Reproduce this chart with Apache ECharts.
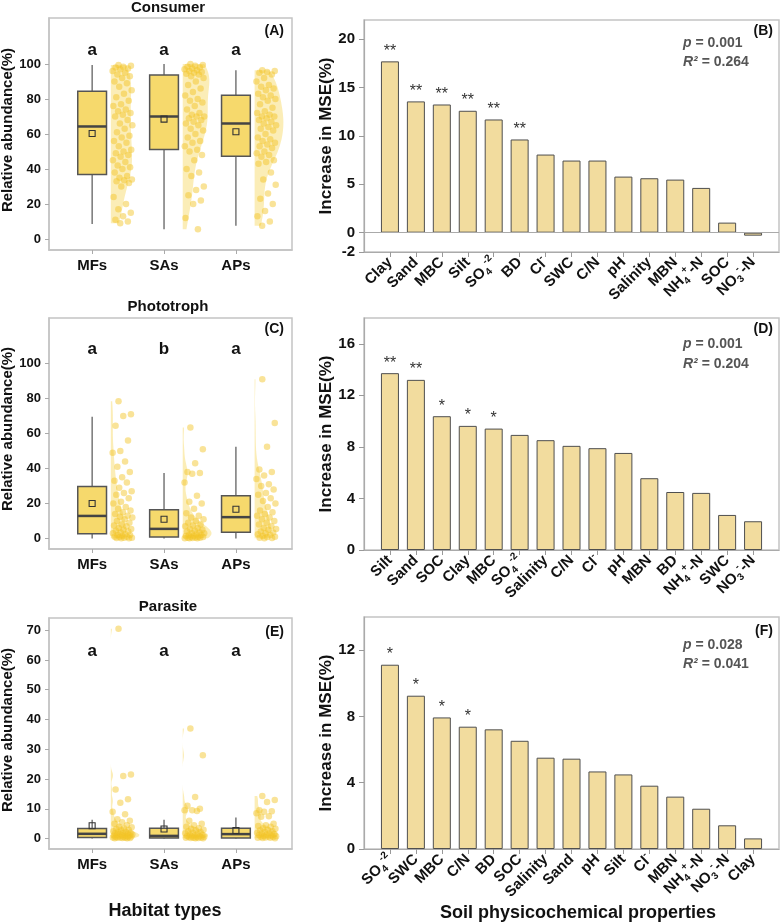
<!DOCTYPE html>
<html><head><meta charset="utf-8">
<script src="https://cdn.jsdelivr.net/npm/echarts@6/dist/echarts.min.js"></script>
<style>html,body{margin:0;padding:0;background:#fff}#c{width:780px;height:924px}</style>
</head><body><div id="c"></div>
<script>
// ---------- DATA ----------
const habitats = ['MFs', 'SAs', 'APs'];

// box stats per habitat: [lower whisker, Q1, median, Q3, upper whisker]
const consumerBox = [[8.6, 36.8, 64.3, 84.5, 99.4], [5.5, 51.1, 70.0, 93.7, 100], [7.6, 47.3, 66.0, 82.1, 96.4]];
const consumerMean = [60.3, 68.5, 61.3];
const consumerLetters = ['a', 'a', 'a'];
const consumerMFs = [99.5, 99, 98.5, 98, 97.5, 97, 96, 95, 94, 93, 92, 90, 89, 87, 85, 83, 81, 79, 77, 76, 74, 73, 72, 71, 70, 68, 66, 65, 63, 61, 59, 58, 56, 55, 53, 51, 50, 49, 48, 47, 45, 44, 42, 41, 40, 38, 36, 35, 34, 33.5, 33, 32, 30, 24, 20, 17, 15, 13, 11, 10, 9];
const consumerSAs = [100, 99.5, 99, 98.5, 98, 97.5, 97, 96.5, 96, 95.5, 95, 94.5, 94, 93, 92, 90, 88, 86, 84, 82, 80, 79, 78, 76, 74, 72, 71, 70, 70, 69, 68, 67, 66, 65, 63, 62, 60, 58, 56, 55, 53, 51, 50, 48, 45, 40, 38, 36, 30, 28, 25, 22, 20, 12, 5.5];
const consumerAPs = [96.5, 96, 95.5, 95, 94, 92, 90, 88, 87, 86, 85, 83, 82, 81, 80, 79, 77, 75, 73, 72, 71, 70, 70, 69, 68, 67, 66, 65, 64, 63, 62, 60, 58, 57, 56, 55, 54, 53, 52, 50, 49, 48, 47, 45, 44, 43, 38, 34, 31, 26, 23, 20, 16, 13, 10, 7.5];

const phototrophBox = [[0, 2.7, 12.9, 29.7, 69.6], [0, 0.8, 5.5, 16.5, 37.5], [0, 3.6, 12.2, 24.5, 52.5]];
const phototrophMean = [20.0, 11.0, 16.7];
const phototrophLetters = ['a', 'b', 'a'];
const phototrophMFs = [78.5, 71, 70, 64.5, 56, 50, 49, 44, 41, 38, 35, 33, 32, 29, 27, 26, 25, 23, 21, 20, 18, 17, 16, 15, 14, 13, 12.5, 12, 11, 10, 9, 8, 7.5, 7, 6, 5.5, 5, 4.5, 4, 3.5, 3, 2.5, 2, 2, 1.5, 1, 1, 0.8, 0.5, 0.5, 0.3, 0.2, 0.1];
const phototrophSAs = [63.5, 51, 43, 38, 37.5, 37, 32, 24.5, 21, 20, 17, 14.5, 13, 12, 11, 10, 9, 8, 7.5, 7, 6, 5.5, 5, 4.5, 4, 3.5, 3, 3, 2.5, 2, 2, 1.5, 1.5, 1, 1, 0.8, 0.6, 0.5, 0.4, 0.3, 0.2, 0.2, 0.1];
const phototrophAPs = [91, 66, 52.5, 39.5, 38, 36, 34, 31, 30, 28, 26, 25, 23, 21.5, 20, 18, 16, 15, 14, 13, 12, 11, 10, 9, 8, 7, 6, 5.5, 5, 4, 3.5, 3, 2.5, 2, 1.5, 1, 0.8, 0.5, 0.3, 0.2];

const parasiteBox = [[0, 0.4, 1.6, 3.4, 6.3], [0, 0.2, 0.9, 3.5, 6.3], [0, 0.2, 1.5, 3.5, 7.1]];
const parasiteMean = [4.3, 3.2, 2.7];
const parasiteLetters = ['a', 'a', 'a'];
const parasiteMFs = [70.5, 21.5, 21, 16.5, 13.2, 12, 9, 8.2, 6.5, 6, 5.5, 5, 4.5, 4, 3.8, 3.5, 3.2, 3, 2.8, 2.5, 2.3, 2.1, 2, 1.9, 1.8, 1.6, 1.5, 1.4, 1.3, 1.2, 1.1, 1, 1, 0.9, 0.8, 0.7, 0.6, 0.5, 0.5, 0.4, 0.4, 0.3, 0.3, 0.2, 0.2, 0.1, 0.1];
const parasiteSAs = [37, 28, 14, 11, 10, 9.5, 9.5, 9.3, 6, 5, 4.5, 4, 3.5, 3.2, 3, 2.8, 2.5, 2.2, 2, 1.8, 1.5, 1.3, 1.2, 1, 0.9, 0.8, 0.7, 0.6, 0.5, 0.5, 0.4, 0.3, 0.3, 0.2, 0.2, 0.1, 0.1];
const parasiteAPs = [14.3, 13, 12.3, 9.5, 9.2, 9, 8.5, 7.5, 7.3, 5, 4.5, 4.2, 4, 3.5, 3.3, 3, 2.8, 2.5, 2.2, 2, 1.8, 1.6, 1.5, 1.3, 1.2, 1, 0.9, 0.8, 0.7, 0.6, 0.5, 0.4, 0.3, 0.3, 0.2, 0.1];

const yTicksAbund = [0, 20, 40, 60, 80, 100];
const yTicksParasite = [0, 10, 20, 30, 40, 50, 60, 70];

// Random forest importance panels
const propsB = ['Clay', 'Sand', 'MBC', 'Silt', 'SO4', 'BD', 'Cl', 'SWC', 'C/N', 'pH', 'Salinity', 'MBN', 'NH4', 'SOC', 'NO3'];
const mseB = [17.72, 13.58, 13.26, 12.61, 11.71, 9.64, 8.08, 7.46, 7.46, 5.80, 5.63, 5.49, 4.63, 1.04, -0.31];
const sigB = ['**', '**', '**', '**', '**', '**', '', '', '', '', '', '', '', '', ''];
const statsB = ['0.001', '0.264'];
const yTicksB = [-2, 0, 5, 10, 15, 20];

const propsD = ['Silt', 'Sand', 'SOC', 'Clay', 'MBC', 'SO4', 'Salinity', 'C/N', 'Cl', 'pH', 'MBN', 'BD', 'NH4', 'SWC', 'NO3'];
const mseD = [13.72, 13.20, 10.38, 9.63, 9.42, 8.93, 8.52, 8.08, 7.90, 7.53, 5.57, 4.50, 4.43, 2.72, 2.23];
const sigD = ['**', '**', '*', '*', '*', '', '', '', '', '', '', '', '', '', ''];
const statsD = ['0.001', '0.204'];
const yTicksD = [0, 4, 8, 12, 16];

const propsF = ['SO4', 'SWC', 'MBC', 'C/N', 'BD', 'SOC', 'Salinity', 'Sand', 'pH', 'Silt', 'Cl', 'MBN', 'NH4', 'NO3', 'Clay'];
const mseF = [11.12, 9.25, 7.94, 7.38, 7.22, 6.53, 5.51, 5.45, 4.68, 4.50, 3.82, 3.16, 2.43, 1.43, 0.64];
const sigF = ['*', '*', '*', '*', '', '', '', '', '', '', '', '', '', '', ''];
const statsF = ['0.028', '0.041'];
const yTicksF = [0, 4, 8, 12];

// ---------- STYLE / HELPERS ----------
const FONT = "'Liberation Sans', Arial, sans-serif";
const BOX_FILL = '#F6D96C';
const VIOLIN_FILL = 'rgba(246, 214, 96, 0.45)';
const POINT_FILL = 'rgba(242, 196, 40, 0.6)';
const BAR_FILL = '#F2DC9E';
const FRAME = '#c4c4c4';

const richNames = {
  SO4: 'SO{sub|4}{sup|-2}',
  Cl: 'Cl{sup|-}',
  NH4: 'NH{sub|4}{sup|+}-N',
  NO3: 'NO{sub|3}{sup|-}-N'
};

function bw(arr) {
  const n = arr.length;
  const m = arr.reduce((a, b) => a + b, 0) / n;
  const sd = Math.sqrt(arr.reduce((a, b) => a + (b - m) * (b - m), 0) / (n - 1));
  const s = arr.slice().sort((a, b) => a - b);
  const q = p => { const h = (n - 1) * p; const l = Math.floor(h); return s[l] + (h - l) * ((s[l + 1] !== undefined ? s[l + 1] : s[l]) - s[l]); };
  const iqr = q(0.75) - q(0.25);
  const lo = Math.min(sd, iqr / 1.34) || sd;
  return 0.9 * lo * Math.pow(n, -0.2);
}
function kde(arr) {
  const h = bw(arr);
  const mn = Math.min(...arr), mx = Math.max(...arr);
  const pts = [];
  const N = 120;
  for (let i = 0; i <= N; i++) {
    const y = mn + (mx - mn) * i / N;
    let d = 0;
    for (const v of arr) { const u = (y - v) / h; d += Math.exp(-0.5 * u * u); }
    d /= (arr.length * h * Math.sqrt(2 * Math.PI));
    pts.push([y, d]);
  }
  return pts;
}
function jitter(i) { const f = (i * 0.6180339887 + 0.31) % 1; return 0.42 + 0.14 * (2 * f - 1); }

const grids = [
  { left: 49, top: 18, width: 243, height: 232 },   // A
  { left: 364, top: 20, width: 415, height: 232 },  // B
  { left: 49, top: 318, width: 243, height: 231 },  // C
  { left: 364, top: 318, width: 415, height: 232 }, // D
  { left: 49, top: 618, width: 243, height: 231 },  // E
  { left: 364, top: 617, width: 415, height: 232 }  // F
].map(g => Object.assign(g, { show: true, borderColor: FRAME, borderWidth: 1.5, backgroundColor: 'transparent' }));

const xAxes = [], yAxes = [], series = [];

function addLeftPanel(gi, box, means, letters, groups, yMin, yMax, ticks, letterY) {
  xAxes.push({
    type: 'value', gridIndex: gi, min: 0.4, max: 3.78,
    axisLine: { show: true, onZero: false, lineStyle: { color: FRAME, width: 1.5 } },
    axisTick: { show: true, customValues: [1, 2, 3], length: 4, lineStyle: { color: '#aaa' } },
    axisLabel: { customValues: [1, 2, 3], showMinLabel: true, showMaxLabel: true, formatter: v => habitats[Math.round(v) - 1], fontSize: 15, fontWeight: 'bold', color: '#111', margin: 8, fontFamily: FONT },
    splitLine: { show: false }
  });
  yAxes.push({
    type: 'value', gridIndex: gi, min: yMin, max: yMax,
    axisLine: { show: true, onZero: false, lineStyle: { color: FRAME, width: 1.5 } },
    axisTick: { show: true, customValues: ticks, length: 4, lineStyle: { color: '#aaa' } },
    axisLabel: { customValues: ticks, fontSize: 13, fontWeight: 'bold', color: '#111', margin: 8, fontFamily: FONT },
    splitLine: { show: false }
  });
  const ai = xAxes.length - 1;
  // violins (area-scaled density)
  const dens = groups.map(kde);
  const maxD = Math.max(...dens.map(d => Math.max(...d.map(p => p[1]))));
  series.push({
    type: 'custom', xAxisIndex: ai, yAxisIndex: ai, silent: true, z: 1,
    data: groups.map((g, i) => [i + 1]),
    renderItem: (params, api) => {
      const i = params.dataIndex;
      const x0 = api.value(0) + 0.26;
      const d = dens[i];
      const pts = [api.coord([x0, d[0][0]])];
      d.forEach(p => pts.push(api.coord([x0 + 0.40 * p[1] / maxD, p[0]])));
      pts.push(api.coord([x0, d[d.length - 1][0]]));
      return { type: 'polygon', shape: { points: pts }, style: { fill: VIOLIN_FILL, stroke: null } };
    }
  });
  // jittered points
  groups.forEach((g, gi2) => {
    series.push({
      type: 'scatter', xAxisIndex: ai, yAxisIndex: ai, silent: true, z: 2,
      symbolSize: 6.5, itemStyle: { color: POINT_FILL },
      data: g.map((v, k) => [gi2 + 1 + jitter(k), v])
    });
  });
  // boxes
  series.push({
    type: 'custom', xAxisIndex: ai, yAxisIndex: ai, silent: true, z: 3,
    data: box.map((b, i) => [i + 1, ...b, means[i]]),
    renderItem: (params, api) => {
      const x = api.value(0);
      const lo = api.value(1), q1 = api.value(2), md = api.value(3), q3 = api.value(4), hi = api.value(5), mn = api.value(6);
      const h = 0.2;
      const pLo = api.coord([x, lo]), pHi = api.coord([x, hi]);
      const tl = api.coord([x - h, q3]), br = api.coord([x + h, q1]);
      const ml = api.coord([x - h, md]), mr = api.coord([x + h, md]);
      const pm = api.coord([x, mn]);
      return {
        type: 'group', children: [
          { type: 'line', shape: { x1: pLo[0], y1: pLo[1], x2: pHi[0], y2: pHi[1] }, style: { stroke: '#555', lineWidth: 1.2 } },
          { type: 'rect', shape: { x: tl[0], y: tl[1], width: br[0] - tl[0], height: br[1] - tl[1] }, style: { fill: BOX_FILL, stroke: '#555', lineWidth: 1.5 } },
          { type: 'line', shape: { x1: ml[0], y1: ml[1], x2: mr[0], y2: mr[1] }, style: { stroke: '#444', lineWidth: 2.5 } },
          { type: 'rect', shape: { x: pm[0] - 3, y: pm[1] - 3, width: 6, height: 6 }, style: { fill: 'none', stroke: '#333', lineWidth: 1.1 } }
        ]
      };
    }
  });
  // significance letters
  series.push({
    type: 'custom', xAxisIndex: ai, yAxisIndex: ai, silent: true, z: 4,
    data: letters.map((l, i) => [i + 1, letterY]),
    renderItem: (params, api) => {
      const p = api.coord([api.value(0), api.value(1)]);
      return { type: 'text', x: p[0], y: p[1], style: { text: letters[params.dataIndex], fontSize: 17, fontWeight: 'bold', fontFamily: FONT, fill: '#111', align: 'center', verticalAlign: 'middle' } };
    }
  });
}

function addRightPanel(gi, props, vals, sig, yMin, yMax, ticks, zeroLine) {
  const labelPos = [0].concat(props.map((p, i) => i + 1)).concat([props.length + 1]);
  xAxes.push({
    type: 'value', gridIndex: gi, min: 0, max: 16, interval: 1,
    axisLine: { show: true, onZero: false, lineStyle: { color: '#aaa', width: 1.2 } },
    axisTick: { show: true, length: 5, lineStyle: { color: '#999' } },
    axisLabel: {
      customValues: labelPos, rotate: 45, margin: 8,
      showMinLabel: false, showMaxLabel: false, hideOverlap: false,
      formatter: v => { const k = Math.round(v); if (k < 1 || k > props.length) return ''; const n = props[k - 1]; return richNames[n] || n; },
      fontSize: 15, fontWeight: 'bold', color: '#111', fontFamily: FONT, lineHeight: 20,
      rich: {
        sub: { fontSize: 10, fontWeight: 'bold', color: '#111', fontFamily: FONT, verticalAlign: 'bottom', lineHeight: 10 },
        sup: { fontSize: 10, fontWeight: 'bold', color: '#111', fontFamily: FONT, verticalAlign: 'top', lineHeight: 10 }
      }
    },
    splitLine: { show: false }
  });
  yAxes.push({
    type: 'value', gridIndex: gi, min: yMin, max: yMax,
    axisLine: { show: true, lineStyle: { color: '#aaa', width: 1.2 } },
    axisTick: { show: true, customValues: ticks, length: 5, lineStyle: { color: '#999' } },
    axisLabel: { customValues: ticks, fontSize: 15, fontWeight: 'bold', color: '#111', margin: 9, fontFamily: FONT },
    splitLine: { show: false }
  });
  const ai = xAxes.length - 1;
  const s = {
    type: 'bar', xAxisIndex: ai, yAxisIndex: ai, barWidth: 18, silent: true,
    itemStyle: { color: BAR_FILL, borderColor: '#4f4f4f', borderWidth: 1 },
    label: { show: true, position: 'top', distance: 2, formatter: p => sig[p.dataIndex], fontSize: 16, color: '#333', fontFamily: FONT },
    data: vals.map((v, i) => [i + 1, v])
  };
  if (zeroLine) {
    s.markLine = { silent: true, symbol: 'none', label: { show: false }, lineStyle: { color: '#aaa', width: 1.2, type: 'solid' }, data: [{ yAxis: 0 }] };
  }
  series.push(s);
}

addLeftPanel(0, consumerBox, consumerMean, consumerLetters, [consumerMFs, consumerSAs, consumerAPs], -6.3, 126.3, yTicksAbund, 108);
addRightPanel(1, propsB, mseB, sigB, -2, 22, yTicksB, true);
addLeftPanel(2, phototrophBox, phototrophMean, phototrophLetters, [phototrophMFs, phototrophSAs, phototrophAPs], -6, 126, yTicksAbund, 108);
addRightPanel(3, propsD, mseD, sigD, 0, 18, yTicksD, false);
addLeftPanel(4, parasiteBox, parasiteMean, parasiteLetters, [parasiteMFs, parasiteSAs, parasiteAPs], -3.5, 74.1, yTicksParasite, 62.8);
addRightPanel(5, propsF, mseF, sigF, 0, 14, yTicksF, false);

// ---------- TEXT ----------
function txt(text, x, y, size, opts) {
  return Object.assign({ type: 'text', x: x, y: y, silent: true, style: Object.assign({ text: text, fontSize: size, fontWeight: 'bold', fontFamily: FONT, fill: '#111', align: 'center', verticalAlign: 'middle' }, opts || {}) });
}
function rot(el) { el.rotation = Math.PI / 2; return el; }
function stats(st, x, y1, y2) {
  const rich = { i: { fontStyle: 'italic', fontWeight: 'bold', fontSize: 14, fontFamily: FONT, fill: '#555' } };
  return [
    txt('{i|p} = ' + st[0], x, y1, 14, { align: 'left', fill: '#555', rich: rich }),
    txt('{i|R²} = ' + st[1], x, y2, 14, { align: 'left', fill: '#555', rich: rich })
  ];
}
const graphics = [
  txt('Consumer', 168, 8, 15), txt('Phototroph', 168, 307, 15), txt('Parasite', 168, 607, 15),
  txt('(A)', 284, 31, 14, { align: 'right' }), txt('(B)', 773, 31, 14, { align: 'right' }),
  txt('(C)', 284, 329, 14, { align: 'right' }), txt('(D)', 773, 329, 14, { align: 'right' }),
  txt('(E)', 284, 632, 14, { align: 'right' }), txt('(F)', 773, 631, 14, { align: 'right' }),
  rot(txt('Relative abundance(%)', 8, 130, 15)), rot(txt('Relative abundance(%)', 8, 429, 15)), rot(txt('Relative abundance(%)', 8, 730, 15)),
  rot(txt('Increase in MSE(%)', 326, 136, 17)), rot(txt('Increase in MSE(%)', 326, 434, 17)), rot(txt('Increase in MSE(%)', 326, 733, 17)),
  txt('Habitat types', 165, 911, 18), txt('Soil physicochemical properties', 578, 913, 18),
  ...stats(statsB, 683, 43, 62), ...stats(statsD, 683, 344, 364), ...stats(statsF, 683, 645, 664)
];

const chart = echarts.init(document.getElementById('c'), null, { renderer: 'canvas' });
chart.setOption({
  animation: false,
  textStyle: { fontFamily: FONT },
  grid: grids,
  xAxis: xAxes,
  yAxis: yAxes,
  series: series,
  graphic: graphics
});
</script></body></html>
